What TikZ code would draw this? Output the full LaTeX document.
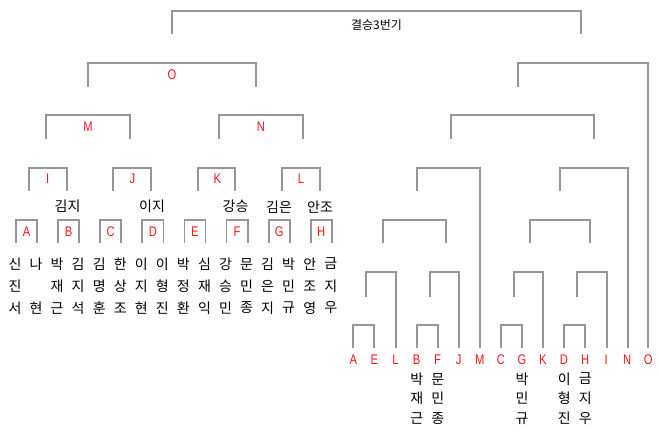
\documentclass[tikz,border=0pt]{standalone}
\usepackage{fontspec}
\newfontfamily\kr{Noto Sans CJK KR}
\newfontfamily\lab[FakeStretch=0.8]{Liberation Sans}
\definecolor{bl}{RGB}{150,150,150}
\definecolor{lr}{RGB}{255,20,30}
\tikzset{
  bline/.style={draw=bl,line width=1.8pt},
  lbl/.style={text=lr,font=\lab\fontsize{14}{14}\selectfont,inner sep=0pt},
  nm/.style={font=\kr\fontsize{14}{14}\selectfont,inner sep=0pt},
  ttl/.style={font=\kr\fontsize{12}{12}\selectfont,inner sep=0pt}
}
\newcommand{\mybkt}[5]{\draw[bline] (#1,#4) |- (#2,#3) -- (#2,#5);}
\begin{document}
\begin{tikzpicture}[x=1pt,y=-1pt]
\useasboundingbox[fill=white] (0,0) rectangle (660,433);
% ---------- top bracket ----------
\mybkt{172}{580.7}{11}{34}{34}
\node[ttl] (title) at (376.5,25.5) {결승3번기};
% ---------- left tree ----------
\mybkt{87.7}{256.3}{62.7}{86.7}{86.7}
\node[lbl] (lO) at (172,75) {O};
\mybkt{45.7}{130}{115.3}{138.7}{138.7}
\node[lbl] (lM) at (88,127) {M};
\mybkt{218.7}{303}{115.3}{138.7}{138.7}
\node[lbl] (lN) at (261,127) {N};
\mybkt{28.7}{66.7}{167.7}{191}{191}
\node[lbl] (lI) at (47.7,179) {I};
\mybkt{113.3}{151}{167.7}{191}{191}
\node[lbl] (lJ) at (132.3,179) {J};
\mybkt{197.7}{235.3}{167.7}{191}{191}
\node[lbl] (lK) at (217.3,179) {K};
\mybkt{282}{319.7}{167.7}{191}{191}
\node[lbl] (lL) at (301,179) {L};
\foreach \k/\t in {0/A,1/B,2/C,3/D,4/E,5/F,6/G,7/H}{
  \pgfmathsetmacro{\xa}{16+42.1*\k}
  \pgfmathsetmacro{\xb}{\xa+21.1}
  \mybkt{\xa}{\xb}{220}{242.7}{242.7}
  \node[lbl] (l\t) at ({(\xa+\xb)/2},231.7) {\t};
}
\node[nm] (tB) at (67.5,206.7) {김지};
\node[nm] (tD) at (152,206.7) {이지};
\node[nm] (tF) at (235.5,206.7) {강승};
\node[nm] (tG) at (279,206.7) {김은};
\node[nm] (tH) at (320,206.7) {안조};
\foreach \i/\a/\b/\c in {0/신/진/서,1/나//현,2/박/재/근,3/김/지/석,4/김/명/훈,5/한/상/조,6/이/지/현,7/이/형/진,8/박/정/환,9/심/재/익,10/강/승/민,11/문/민/종,12/김/은/지,13/박/민/규,14/안/조/영,15/금/지/우}{
  \pgfmathsetmacro{\xx}{15+21.05*\i}
  \node[nm] (na\i) at (\xx,264) {\a};
  \node[nm] (nb\i) at (\xx,286) {\b};
  \node[nm] (nc\i) at (\xx,308) {\c};
}
% ---------- right tree ----------
\foreach \j/\t in {0/A,1/E,2/L,3/B,4/F,5/J,6/M,7/C,8/G,9/K,10/D,11/H,12/I,13/N,14/O}{
  \pgfmathsetmacro{\xx}{353.3+21.07*\j}
  \node[lbl] (r\t) at (\xx,360) {\t};
}
% level 1
\mybkt{353.3}{374.3}{325}{348.3}{348.3}
\mybkt{416.7}{437.7}{325}{348.3}{348.3}
\mybkt{501}{522}{325}{348.3}{348.3}
\mybkt{564.3}{585.3}{325}{348.3}{348.3}
% level 2
\mybkt{366}{395.7}{271.7}{296.7}{348.3}
\mybkt{430}{459}{271.7}{296.7}{348.3}
\mybkt{513.7}{543.3}{271.7}{296.7}{348.3}
\mybkt{577}{606.7}{271.7}{296.7}{348.3}
% level 3
\mybkt{382.7}{446}{220}{243.3}{243.3}
\mybkt{530.3}{589.7}{220}{243.3}{243.3}
% level 4
\mybkt{416.7}{480}{167.7}{191}{348.3}
\mybkt{560}{627.7}{167.7}{191}{348.3}
% level 5
\mybkt{450.7}{594}{115.3}{138.7}{138.7}
% level 6
\mybkt{518.3}{648.3}{62.7}{86.7}{348.3}
% names under right labels
\foreach \x/\a/\b/\c/\n in {416.7/박/재/근/1,437.7/문/민/종/2,522/박/민/규/3,564.3/이/형/진/4,585.3/금/지/우/5}{
  \node[nm] (ra\n) at (\x,379) {\a};
  \node[nm] (rb\n) at (\x,398.5) {\b};
  \node[nm] (rc\n) at (\x,418.5) {\c};
}
\end{tikzpicture}
\end{document}
